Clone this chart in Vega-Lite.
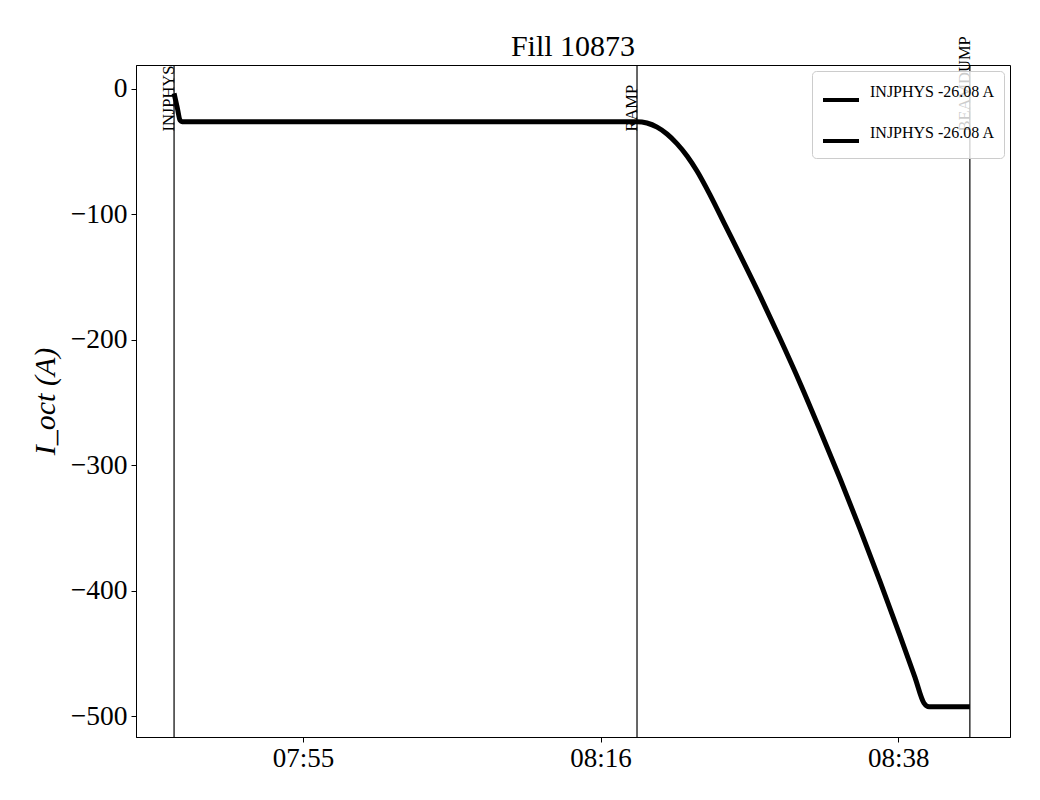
{
  "$schema": "https://vega.github.io/schema/vega-lite/v6.json",
  "autosize": "none",
  "width": 874,
  "height": 672,
  "padding": {"left": 136, "top": 65, "right": 30, "bottom": 63},
  "background": "white",
  "config": {
    "font": "Liberation Serif",
    "view": {"stroke": "black", "strokeWidth": 1},
    "axis": {"grid": false, "domainColor": "black", "tickColor": "black", "labelColor": "black", "titleColor": "black", "labelFont": "Liberation Serif", "titleFont": "Liberation Serif"}
  },
  "title": {"text": "Fill 10873", "fontSize": 30, "fontWeight": "normal", "font": "Liberation Serif", "color": "black", "offset": -26},
  "datasets": {
    "curve": [
      {"t": "2025-06-01T07:46:01Z", "v": -3.5, "s": "s1"},
      {"t": "2025-06-01T07:46:15Z", "v": -15, "s": "s1"},
      {"t": "2025-06-01T07:46:27Z", "v": -25, "s": "s1"},
      {"t": "2025-06-01T07:46:36Z", "v": -26.08, "s": "s1"},
      {"t": "2025-06-01T08:19:28Z", "v": -26.08, "s": "s1"},
      {"t": "2025-06-01T08:20:11Z", "v": -27.17, "s": "s1"},
      {"t": "2025-06-01T08:20:55Z", "v": -30.45, "s": "s1"},
      {"t": "2025-06-01T08:21:38Z", "v": -35.91, "s": "s1"},
      {"t": "2025-06-01T08:22:21Z", "v": -43.56, "s": "s1"},
      {"t": "2025-06-01T08:23:05Z", "v": -53.39, "s": "s1"},
      {"t": "2025-06-01T08:23:48Z", "v": -65.41, "s": "s1"},
      {"t": "2025-06-01T08:24:44Z", "v": -84.21, "s": "s1"},
      {"t": "2025-06-01T08:25:49Z", "v": -108.2, "s": "s1"},
      {"t": "2025-06-01T08:26:54Z", "v": -132.1, "s": "s1"},
      {"t": "2025-06-01T08:28:21Z", "v": -164.8, "s": "s1"},
      {"t": "2025-06-01T08:29:48Z", "v": -199.0, "s": "s1"},
      {"t": "2025-06-01T08:31:15Z", "v": -234.6, "s": "s1"},
      {"t": "2025-06-01T08:32:41Z", "v": -271.9, "s": "s1"},
      {"t": "2025-06-01T08:34:08Z", "v": -310.6, "s": "s1"},
      {"t": "2025-06-01T08:35:35Z", "v": -350.9, "s": "s1"},
      {"t": "2025-06-01T08:37:01Z", "v": -392.5, "s": "s1"},
      {"t": "2025-06-01T08:38:28Z", "v": -435.8, "s": "s1"},
      {"t": "2025-06-01T08:39:33Z", "v": -469.2, "s": "s1"},
      {"t": "2025-06-01T08:40:12Z", "v": -489.7, "s": "s1"},
      {"t": "2025-06-01T08:40:34Z", "v": -492.6, "s": "s1"},
      {"t": "2025-06-01T08:43:31Z", "v": -492.6, "s": "s1"}
    ],
    "events": [
      {"t": "2025-06-01T07:46:01Z", "label": "INJPHYS"},
      {"t": "2025-06-01T08:19:28Z", "label": "RAMP"},
      {"t": "2025-06-01T08:43:31Z", "label": "BEAMDUMP"}
    ]
  },
  "encoding": {
    "x": {
      "field": "t", "type": "temporal",
      "scale": {"type": "utc", "domain": [
        {"year": 2025, "month": 6, "date": 1, "hours": 7, "minutes": 43, "seconds": 16, "utc": true},
        {"year": 2025, "month": 6, "date": 1, "hours": 8, "minutes": 46, "seconds": 25, "utc": true}
      ], "nice": false},
      "axis": {
        "title": null,
        "labelExpr": "utcFormat(datum.value, '%H:%M')",
        "values": [
          {"year": 2025, "month": 6, "date": 1, "hours": 7, "minutes": 55, "seconds": 20, "utc": true},
          {"year": 2025, "month": 6, "date": 1, "hours": 8, "minutes": 16, "seconds": 50, "utc": true},
          {"year": 2025, "month": 6, "date": 1, "hours": 8, "minutes": 38, "seconds": 20, "utc": true}
        ],
        "labelFontSize": 27, "tickSize": 5, "labelPadding": 3, "labelFlush": false, "labelOverlap": false
      }
    }
  },
  "layer": [
    {
      "data": {"name": "events"},
      "mark": {"type": "rule", "color": "black", "strokeWidth": 1.2},
      "encoding": {}
    },
    {
      "data": {"name": "events"},
      "mark": {"type": "text", "angle": 270, "align": "left", "baseline": "alphabetic", "fontSize": 16.5, "font": "Liberation Serif", "color": "black", "clip": false},
      "encoding": {
        "y": {"datum": -34, "type": "quantitative"},
        "text": {"field": "label"}
      }
    },
    {
      "data": {"name": "curve"},
      "mark": {"type": "line", "strokeWidth": 5, "interpolate": "monotone"},
      "encoding": {
        "y": {
          "field": "v", "type": "quantitative",
          "scale": {"domain": [-516.7, 19.1], "nice": false, "zero": false},
          "axis": {
            "title": "I_oct (A)", "titleFontSize": 30, "titleFontWeight": "normal", "titleFontStyle": "italic", "titlePadding": 10,
            "values": [-500, -400, -300, -200, -100, 0],
            "labelFontSize": 27.5, "tickSize": 5, "labelPadding": 4
          }
        },
        "color": {
          "field": "s", "type": "nominal",
          "scale": {"domain": ["s1", "s2"], "range": ["black", "black"]},
          "legend": {
            "title": null,
            "orient": "top-right",
            "offset": 6,
            "labelExpr": "'INJPHYS -26.08 A'",
            "labelFontSize": 16,
            "labelFont": "Liberation Serif",
            "labelColor": "black",
            "labelBaseline": "bottom",
            "labelOffset": 9,
            "symbolType": "stroke",
            "symbolSize": 1296,
            "symbolStrokeWidth": 4,
            "symbolStrokeColor": "black",
            "rowPadding": 13,
            "padding": 9,
            "fillColor": "rgba(255,255,255,0.8)",
            "strokeColor": "#cccccc",
            "cornerRadius": 4
          }
        }
      }
    }
  ]
}
